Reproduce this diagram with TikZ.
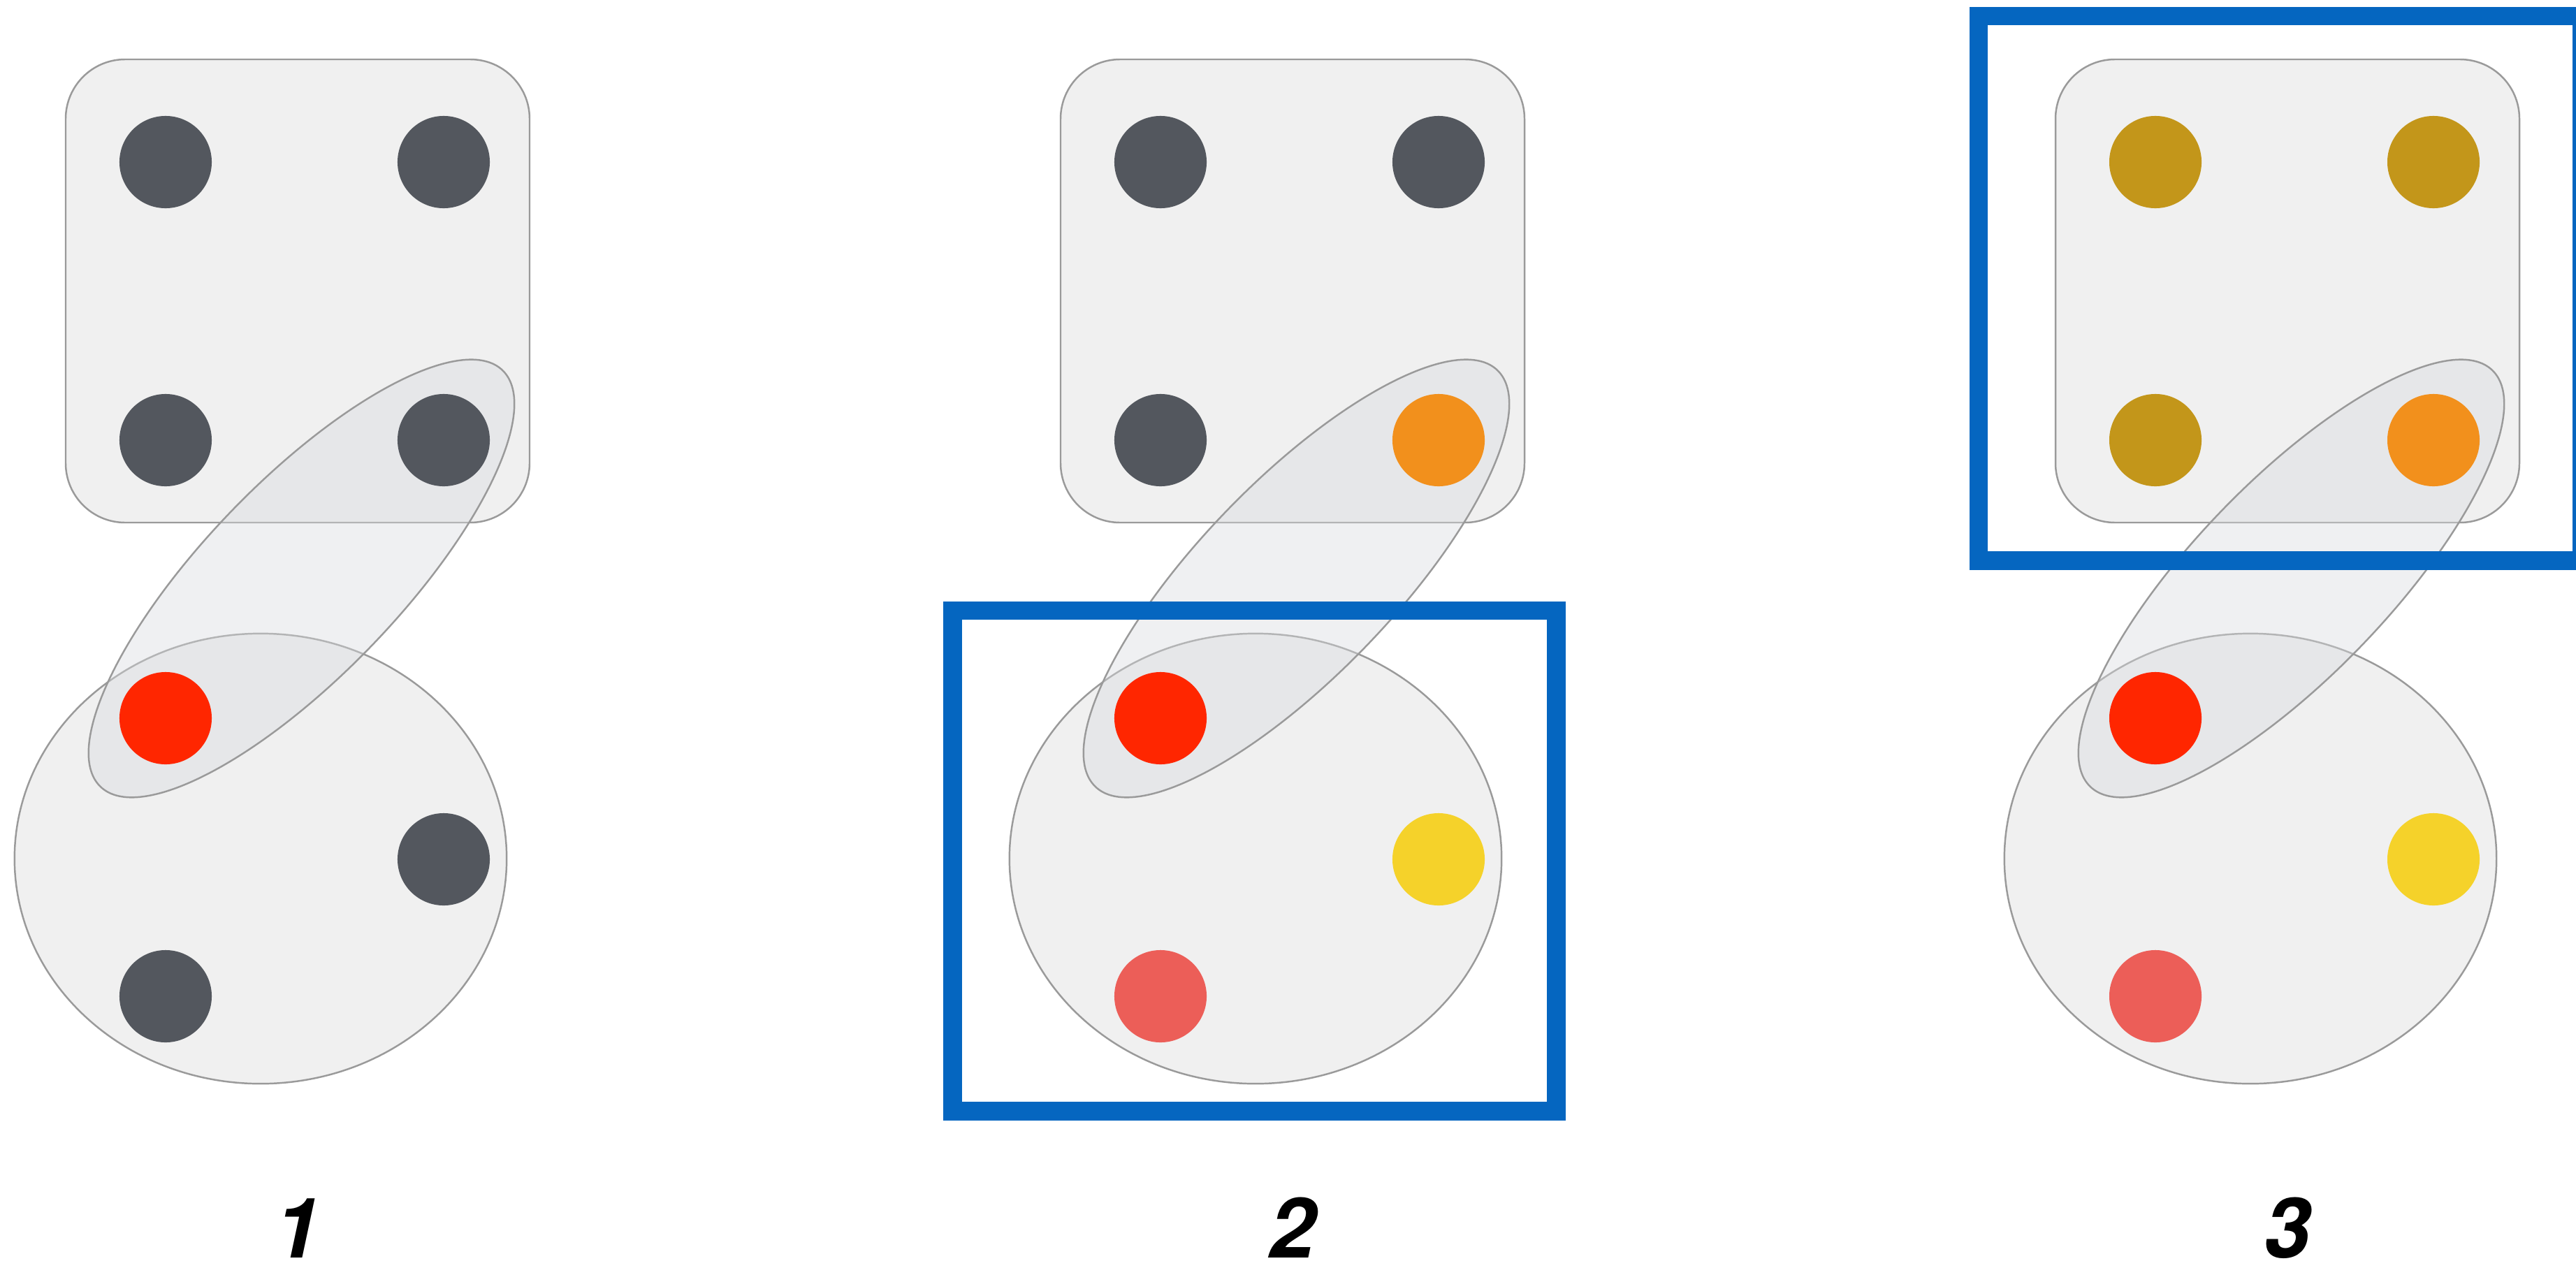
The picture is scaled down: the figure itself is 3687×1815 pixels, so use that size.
\documentclass[tikz,border=0pt]{standalone}
\usepackage{fontspec}
\newfontfamily\labfont{TeX Gyre Heros}
\definecolor{dotgray}{RGB}{83,87,94}
\definecolor{dotred}{RGB}{255,38,0}
\definecolor{dotsalmon}{RGB}{236,94,88}
\definecolor{dotyellow}{RGB}{245,210,42}
\definecolor{dotorange}{RGB}{242,144,28}
\definecolor{dotmustard}{RGB}{195,150,26}
\definecolor{frameblue}{RGB}{5,102,192}
\definecolor{panelfill}{RGB}{240,240,240}
\definecolor{outl}{RGB}{154,154,154}
\definecolor{tiltfill}{RGB}{217,219,223}
\tikzset{
  dotnode/.style={circle, minimum size=1.32cm, inner sep=0pt, fill=#1},
  sqbox/.style={fill=panelfill, draw=outl, line width=0.7pt, rounded corners=0.85cm},
  bigell/.style={fill=panelfill, draw=outl, line width=0.7pt},
  tiltell/.style={fill=tiltfill, fill opacity=0.4, draw=outl, draw opacity=1, line width=0.7pt},
  framebox/.style={draw=frameblue, line width=0.265cm},
  numlabel/.style={font=\labfont\bfseries\itshape\fontsize{34}{40}\selectfont, anchor=base, inner sep=0pt}
}
\begin{document}
\begin{tikzpicture}[x=0.01cm,y=-0.01cm]
\useasboundingbox (0,0) rectangle (3687,1815);
\fill[white] (0,0) rectangle (3687,1815);

% ---------- panel 1 ----------
\begin{scope}
\draw[sqbox] (94,85) rectangle (758,748);
\draw[bigell] (373,1229) ellipse [x radius=3.52cm, y radius=3.22cm];
\draw[tiltell, rotate around={46:(431.5,828)}] (431.5,828) ellipse [x radius=4.14cm, y radius=1.39cm];
\node[dotnode=dotgray] (a1) at (237,232) {};
\node[dotnode=dotgray] (a2) at (635,232) {};
\node[dotnode=dotgray] (a3) at (237,630) {};
\node[dotnode=dotgray] (a4) at (635,630) {};
\node[dotnode=dotred] (a5) at (237,1028) {};
\node[dotnode=dotgray] (a6) at (635,1230) {};
\node[dotnode=dotgray] (a7) at (237,1426) {};
\node[numlabel] (l1) at (426,1800) {1};
\end{scope}

% ---------- panel 2 ----------
\begin{scope}[shift={(1424,0)}]
\draw[sqbox] (94,85) rectangle (758,748);
\draw[bigell] (373,1229) ellipse [x radius=3.52cm, y radius=3.22cm];
\draw[tiltell, rotate around={46:(431.5,828)}] (431.5,828) ellipse [x radius=4.14cm, y radius=1.39cm];
\node[dotnode=dotgray] (b1) at (237,232) {};
\node[dotnode=dotgray] (b2) at (635,232) {};
\node[dotnode=dotgray] (b3) at (237,630) {};
\node[dotnode=dotorange] (b4) at (635,630) {};
\node[dotnode=dotred] (b5) at (237,1028) {};
\node[dotnode=dotyellow] (b6) at (635,1230) {};
\node[dotnode=dotsalmon] (b7) at (237,1426) {};
\draw[framebox] (-60.5,874) rectangle (803.5,1590.5);
\node[numlabel] (l2) at (426,1800) {2};
\end{scope}

% ---------- panel 3 ----------
\begin{scope}[shift={(2848,0)}]
\draw[sqbox] (94,85) rectangle (758,748);
\draw[bigell] (373,1229) ellipse [x radius=3.52cm, y radius=3.22cm];
\draw[tiltell, rotate around={46:(431.5,828)}] (431.5,828) ellipse [x radius=4.14cm, y radius=1.39cm];
\node[dotnode=dotmustard] (c1) at (237,232) {};
\node[dotnode=dotmustard] (c2) at (635,232) {};
\node[dotnode=dotmustard] (c3) at (237,630) {};
\node[dotnode=dotorange] (c4) at (635,630) {};
\node[dotnode=dotred] (c5) at (237,1028) {};
\node[dotnode=dotyellow] (c6) at (635,1230) {};
\node[dotnode=dotsalmon] (c7) at (237,1426) {};
\draw[framebox] (-16,23) rectangle (847.5,802.5);
\node[numlabel] (l3) at (426,1800) {3};
\end{scope}
\end{tikzpicture}
\end{document}
